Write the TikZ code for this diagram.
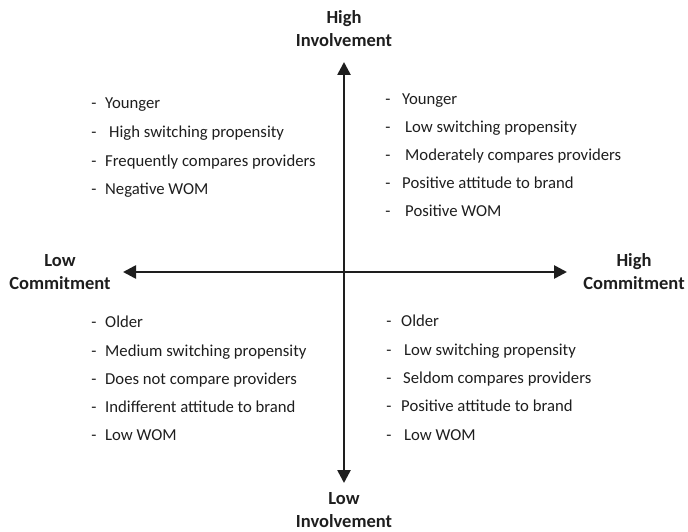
\documentclass[tikz,border=0pt]{standalone}
\usepackage{fontspec}
\setmainfont{Carlito}
\usetikzlibrary{arrows.meta}

\definecolor{ink}{HTML}{1E1E1E}

\tikzset{
  axis/.style={draw=ink, line width=2.6bp,
    {Triangle[length=13bp,width=13bp]}-{Triangle[length=13bp,width=13bp]}},
  axislabel/.style={text=ink, font=\fontsize{18.5bp}{23bp}\selectfont\bfseries,
    align=center, inner sep=0pt},
  item/.style={text=ink, font=\fontsize{16.7bp}{20bp}\selectfont, anchor=west,
    inner sep=0pt, text height=0.72em, text depth=0.22em, yshift=-1.5bp},
  dashmark/.style={text=ink, font=\fontsize{16.7bp}{20bp}\selectfont,
    inner sep=0pt, text height=0.72em, text depth=0.22em, yshift=-1.5bp},
}

\begin{document}
\begin{tikzpicture}[x=1bp, y=-1bp]
  \useasboundingbox (0,0) rectangle (688,532);

  % axis end points
  \coordinate (top) at (344,62);
  \coordinate (bottom) at (344,483);
  \coordinate (left) at (123,272);
  \coordinate (right) at (567,272);

  \draw[axis] (bottom) -- (top);
  \draw[axis] (left) -- (right);

  % axis labels
  \node[axislabel] (hi-inv) at (344,29) {High\\Involvement};
  \node[axislabel] (lo-inv) at (344,510) {Low\\Involvement};
  \node[axislabel] (lo-com) at (60,272) {Low\\Commitment};
  \node[axislabel] (hi-com) at (634,272) {High\\Commitment};

  % upper left quadrant
  \foreach \y/\x/\t [count=\i] in {
      105/105/Younger,
      134/109/High switching propensity,
      163/105/Frequently compares providers,
      191/105/Negative WOM} {
    \node[dashmark] (tl-d\i) at (94,\y) {-};
    \node[item] (tl-\i) at (\x,\y) {\t};
  }

  % upper right quadrant
  \foreach \y/\x/\t [count=\i] in {
      101/402/Younger,
      129/405/Low switching propensity,
      157/405/Moderately compares providers,
      185/402/Positive attitude to brand,
      213/405/Positive WOM} {
    \node[dashmark] (tr-d\i) at (388,\y) {-};
    \node[item] (tr-\i) at (\x,\y) {\t};
  }

  % lower left quadrant
  \foreach \y/\x/\t [count=\i] in {
      324/105/Older,
      353/105/Medium switching propensity,
      381/105/Does not compare providers,
      409/105/Indifferent attitude to brand,
      437/105/Low WOM} {
    \node[dashmark] (bl-d\i) at (94,\y) {-};
    \node[item] (bl-\i) at (\x,\y) {\t};
  }

  % lower right quadrant
  \foreach \y/\x/\t [count=\i] in {
      323/401/Older,
      352/404/Low switching propensity,
      380/403/Seldom compares providers,
      408/401/Positive attitude to brand,
      437/404/Low WOM} {
    \node[dashmark] (br-d\i) at (389,\y) {-};
    \node[item] (br-\i) at (\x,\y) {\t};
  }
\end{tikzpicture}
\end{document}
